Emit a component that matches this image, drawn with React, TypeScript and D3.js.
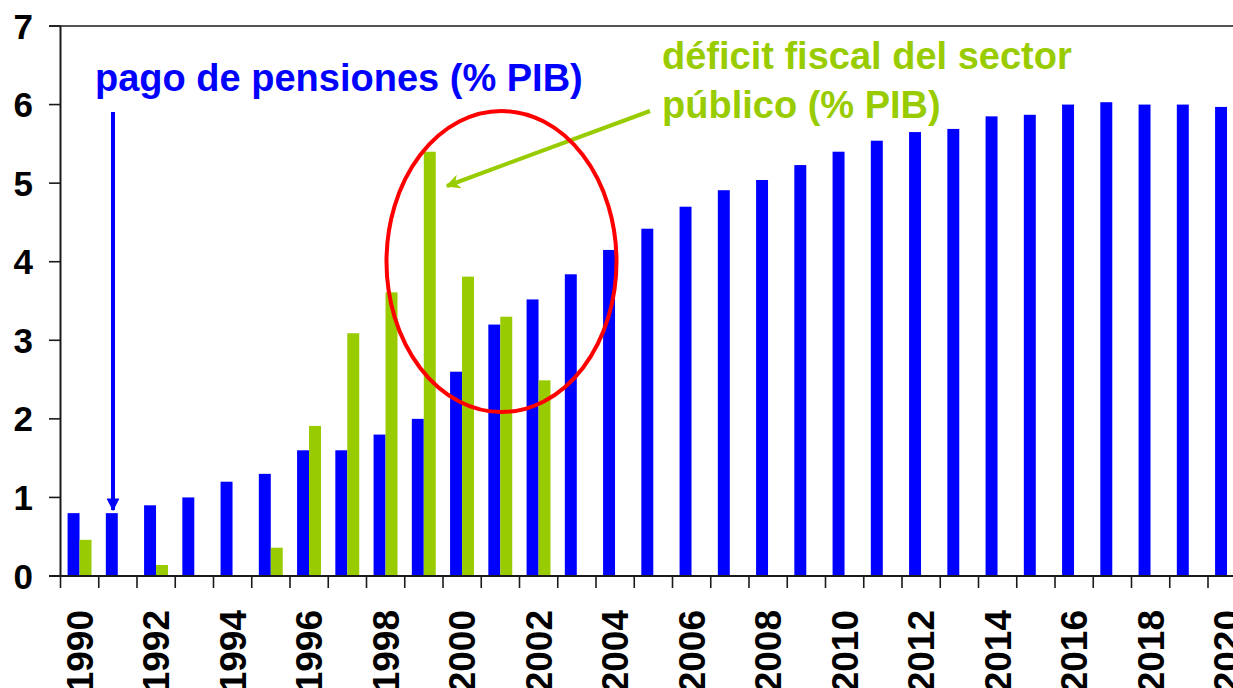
import React from "react";
import * as d3 from "d3";

const years: number[] = d3.range(1990, 2021);
const pensiones: number[] = [
  0.8, 0.8, 0.9, 1.0, 1.2, 1.3, 1.6, 1.6, 1.8, 2.0, 2.6, 3.2, 3.52, 3.84, 4.15,
  4.42, 4.7, 4.91, 5.04, 5.23, 5.4, 5.54, 5.65, 5.69, 5.85, 5.87, 6.0, 6.03, 6.0,
  6.0, 5.97,
];
const deficit: (number | null)[] = [
  0.46, null, 0.14, null, null, 0.36, 1.91, 3.09, 3.61, 5.4, 3.81, 3.3, 2.49,
  null, null, null, null, null, null, null, null, null, null, null, null, null,
  null, null, null, null, null,
];
const yTicks: number[] = [0, 1, 2, 3, 4, 5, 6, 7];
const labelYears: number[] = years.filter((y) => y % 2 === 0);
const seriesKeys: string[] = ["pensiones", "deficit"];

const BLUE = "#0000ff";
const GREEN = "#99cc00";
const RED = "#ff0000";
const AXIS = "#1a1a1a";
const FONT = "'Liberation Sans', Arial, Helvetica, sans-serif";

export default function App() {
  const W = 1233;
  const H = 688;
  const left = 60.5;
  const step = 38.25;
  const top = 26;
  const bottom = 576;

  const x = d3
    .scaleBand<number>()
    .domain(years)
    .range([left, left + step * years.length])
    .padding(0);
  const bw = x.bandwidth();
  const xi = d3
    .scaleBand<string>()
    .domain(seriesKeys)
    .range([bw * 0.185, bw * 0.81])
    .padding(0);
  const y = d3.scaleLinear().domain([0, 7]).range([bottom, top]);

  const boundaries = years.map((yr) => x(yr) as number);
  const rightEnd = left + step * years.length;

  return (
    <svg
      width={W}
      height={H}
      style={{ position: "absolute", left: 0, top: 0, overflow: "hidden", background: "#fff" }}
      fontFamily={FONT}
    >
      <defs>
        <marker id="blueHead" viewBox="0 0 10 10" refX="9" refY="5" markerWidth="3.2" markerHeight="3.2" orient="auto" markerUnits="strokeWidth">
          <path d="M0,0 L10,5 L0,10 Z" fill={BLUE} />
        </marker>
        <marker id="greenHead" viewBox="0 0 10 10" refX="9" refY="5" markerWidth="3.6" markerHeight="3.6" orient="auto" markerUnits="strokeWidth">
          <path d="M0,0 L10,5 L0,10 L3,5 Z" fill={GREEN} />
        </marker>
      </defs>

      {/* bars */}
      {years.map((yr, i) => (
        <rect
          key={"p" + yr}
          x={(x(yr) as number) + (xi("pensiones") as number)}
          y={y(pensiones[i])}
          width={xi.bandwidth()}
          height={bottom - y(pensiones[i])}
          fill={BLUE}
        />
      ))}
      {years.map((yr, i) =>
        deficit[i] == null ? null : (
          <rect
            key={"d" + yr}
            x={(x(yr) as number) + (xi("deficit") as number)}
            y={y(deficit[i] as number)}
            width={xi.bandwidth()}
            height={bottom - y(deficit[i] as number)}
            fill={GREEN}
          />
        )
      )}

      {/* axes */}
      <line x1={49} x2={rightEnd} y1={y(7)} y2={y(7)} stroke={AXIS} strokeWidth={1.6} />
      <line x1={left} x2={left} y1={top} y2={bottom} stroke={AXIS} strokeWidth={2} />
      <line x1={49} x2={rightEnd} y1={bottom} y2={bottom} stroke={AXIS} strokeWidth={2} />
      {yTicks.map((t) => (
        <g key={"yt" + t}>
          <line x1={49} x2={left} y1={y(t)} y2={y(t)} stroke={AXIS} strokeWidth={1.6} />
          <text
            x={33}
            y={y(t)}
            dy="0.36em"
            textAnchor="end"
            fontSize={35}
            fontWeight="bold"
            fill="#000"
          >
            {t}
          </text>
        </g>
      ))}
      {boundaries.map((bx, i) => (
        <line key={"xt" + i} x1={bx} x2={bx} y1={bottom} y2={bottom + 12} stroke={AXIS} strokeWidth={1.6} />
      ))}
      {labelYears.map((yr) => {
        const cx = (x(yr) as number) + bw / 2;
        return (
          <text
            key={"xl" + yr}
            transform={`translate(${cx},${610}) rotate(-90)`}
            dy="0.36em"
            textAnchor="end"
            fontSize={37}
            fontWeight="bold"
            fill="#000"
          >
            {yr}
          </text>
        );
      })}

      {/* annotations */}
      <text x={95} y={91} fontSize={38} fontWeight="bold" fill={BLUE}>
        pago de pensiones (% PIB)
      </text>
      <line
        x1={113}
        y1={112}
        x2={113}
        y2={y(0.84)}
        stroke={BLUE}
        strokeWidth={4}
        markerEnd="url(#blueHead)"
      />

      <text x={662} y={69} fontSize={38} fontWeight="bold" fill={GREEN}>
        déficit fiscal del sector
      </text>
      <text x={662} y={118} fontSize={38} fontWeight="bold" fill={GREEN}>
        público (% PIB)
      </text>
      <line
        x1={650}
        y1={111}
        x2={447}
        y2={186}
        stroke={GREEN}
        strokeWidth={4}
        markerEnd="url(#greenHead)"
      />

      <ellipse
        cx={501.5}
        cy={261.5}
        rx={115}
        ry={150.5}
        fill="none"
        stroke={RED}
        strokeWidth={4}
      />
    </svg>
  );
}
